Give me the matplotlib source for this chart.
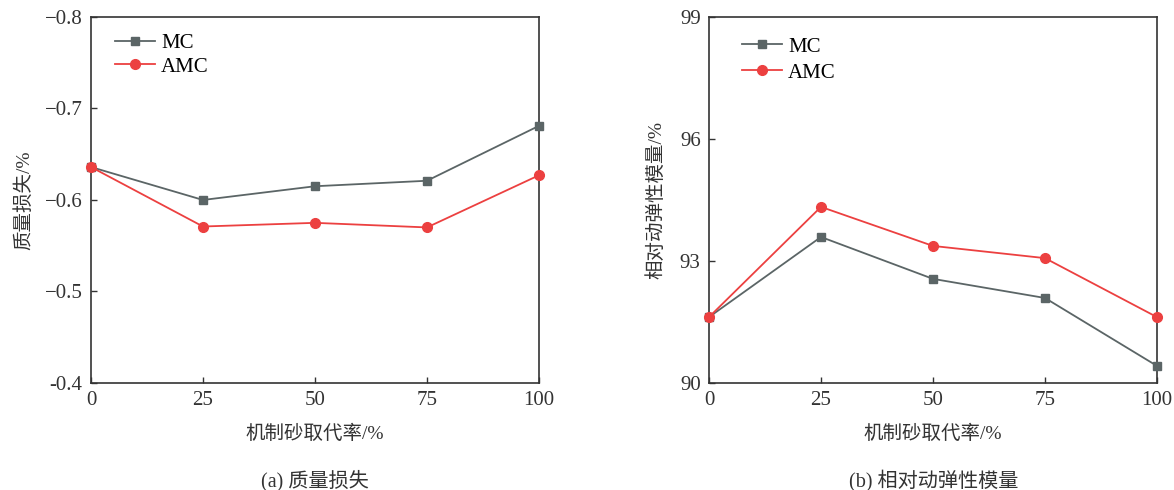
import numpy as np
import matplotlib.pyplot as plt
from matplotlib.ticker import FixedLocator, FixedFormatter

plt.rcParams['font.family'] = ['Liberation Serif', 'Noto Sans CJK SC']

ratio = [0, 25, 50, 75, 100]
loss_mc = [-0.636, -0.600, -0.615, -0.621, -0.681]
loss_amc = [-0.636, -0.571, -0.575, -0.570, -0.627]
mod_mc = [91.62, 93.59, 92.56, 92.09, 90.42]
mod_amc = [91.62, 94.33, 93.37, 93.07, 91.62]

loss_ticks = [-0.8, -0.7, -0.6, -0.5, -0.4]
loss_labels = ['\u22120.8', '\u22120.7', '\u22120.6', '\u22120.5', '-0.4']
mod_ticks = [90, 93, 96, 99]

gray = '#5b6566'
red = '#ec4040'
txt = '#333333'

fig = plt.figure(figsize=(11.74, 4.9), dpi=100)
ax1 = fig.add_axes([0.0775, 0.2184, 0.3816, 0.747])
ax2 = fig.add_axes([0.6039, 0.2184, 0.3816, 0.747])

# legend anchor (axes fraction) and row spacing for each panel
legend_pos = {ax1: ((0.054, 0.955), 0.2), ax2: ((0.074, 0.945), 0.3)}

for ax, mc, amc in [(ax1, loss_mc, loss_amc), (ax2, mod_mc, mod_amc)]:
    ax.plot(ratio, mc, color=gray, marker='s', markersize=6, lw=1.3,
            label='MC', clip_on=False, zorder=3)
    ax.plot(ratio, amc, color=red, marker='o', markersize=7, lw=1.3,
            label='AMC', clip_on=False, zorder=3)
    ax.set_xlim(0, 100)
    ax.set_xticks(ratio)
    ax.tick_params(direction='in', length=4, width=1, labelsize=15, pad=6,
                   colors=txt)
    for s in ax.spines.values():
        s.set_linewidth(1.2)
        s.set_color(txt)
    ax.set_xlabel('机制砂取代率/%', fontsize=14, color=txt, labelpad=10)
    anchor, spacing = legend_pos[ax]
    ax.legend(loc='upper left', bbox_to_anchor=anchor, frameon=False,
              fontsize=15, handlelength=1.9, borderaxespad=0, borderpad=0,
              labelspacing=spacing, handletextpad=0.3)

ax1.set_ylim(-0.4, -0.8)
ax1.yaxis.set_major_locator(FixedLocator(loss_ticks))
ax1.yaxis.set_major_formatter(FixedFormatter(loss_labels))
ax1.set_ylabel('质量损失/%', fontsize=14, color=txt, labelpad=8)

ax2.set_ylim(90, 99)
ax2.set_yticks(mod_ticks)
ax2.set_ylabel('相对动弹性模量/%', fontsize=14, color=txt, labelpad=10)

fig.text(0.268, 0.02, '(a) 质量损失', fontsize=14.5,
         ha='center', va='center', color=txt)
fig.text(0.795, 0.02, '(b) 相对动弹性模量', fontsize=14.5,
         ha='center', va='center', color=txt)

fig.savefig('out.png', dpi=100)
